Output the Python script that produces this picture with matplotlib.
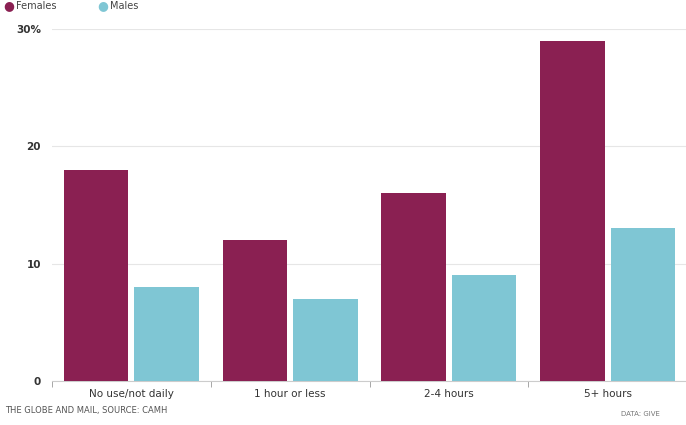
import matplotlib
matplotlib.use("Agg")
import matplotlib.pyplot as plt
import numpy as np

categories = ["No use/not daily", "1 hour or less", "2-4 hours", "5+ hours"]
females = [18, 12, 16, 29]
males = [8, 7, 9, 13]
series_names = ["Females", "Males"]
ytick_labels = ["0", "10", "20", "30%"]

c_f = "#8a2052"
c_m = "#7fc6d4"

fig = plt.figure(figsize=(6.86, 4.25), dpi=100)
ax = fig.add_axes([52/686, 1-381/425, 635/686, (381-29)/425])

x = np.arange(len(categories))
w = 0.405
ax.bar(x - 0.222, females, width=w, color=c_f, zorder=3)
ax.bar(x + 0.222, males, width=w, color=c_m, zorder=3)

ax.set_xlim(-0.5, len(categories) - 0.5)
ax.set_ylim(0, 30)
ax.set_yticks([0, 10, 20, 30])
ax.set_yticklabels(ytick_labels)
ax.yaxis.grid(True, color="#e6e6e6", linewidth=0.8, zorder=0)
for s in ["top", "right", "left"]:
    ax.spines[s].set_visible(False)
ax.spines["bottom"].set_color("#cccccc")
ax.tick_params(axis="y", length=0, pad=8, labelsize=7.5, labelcolor="#333333")
for t in ax.get_yticklabels():
    t.set_fontweight("bold")

ax.set_xticks(x)
ax.set_xticklabels(categories, fontsize=7.5, color="#333333")
ax.tick_params(axis="x", length=0, pad=6)
ax.set_xticks(np.arange(-0.5, len(categories) + 0.5, 1), minor=True)
ax.tick_params(axis="x", which="minor", length=4, color="#999999")

# legend
fig.text(9/686, 1-6/425, "\u25cf", color=c_f, fontsize=9, ha="center", va="center")
fig.text(16/686, 1-6/425, series_names[0], color="#444444", fontsize=7, ha="left", va="center")
fig.text(103/686, 1-6/425, "\u25cf", color=c_m, fontsize=9, ha="center", va="center")
fig.text(110/686, 1-6/425, series_names[1], color="#444444", fontsize=7, ha="left", va="center")

fig.text(5/686, 1-410/425, "THE GLOBE AND MAIL, SOURCE: CAMH", color="#555555", fontsize=6, ha="left", va="center")
fig.text(621/686, 1-414/425, "DATA: GIVE", color="#777777", fontsize=5, ha="left", va="center")

fig.savefig("out.png", dpi=100)
